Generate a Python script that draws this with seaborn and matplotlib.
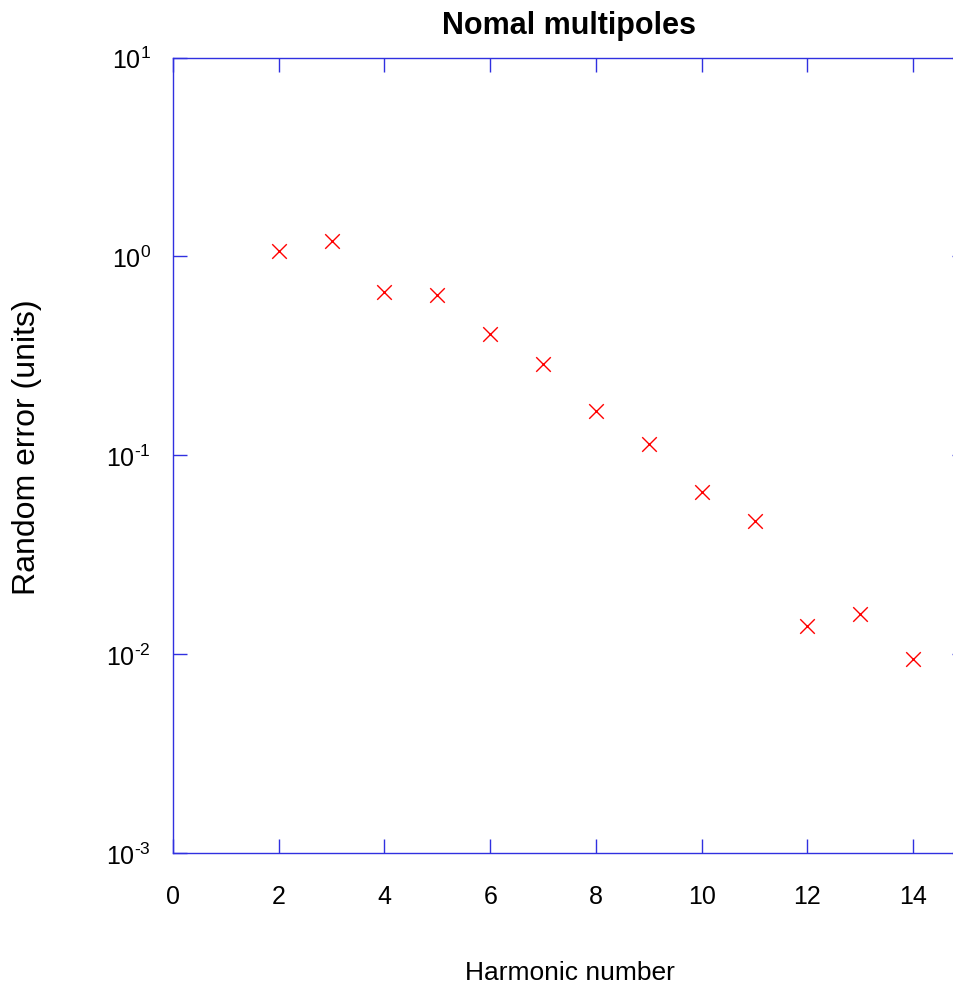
import matplotlib
matplotlib.use('Agg')
from matplotlib import pyplot as plt
from matplotlib.ticker import FuncFormatter, NullLocator
import seaborn as sns
import pandas as pd
import numpy as np

# Data
harmonic = [2, 3, 4, 5, 6, 7, 8, 9, 10, 11, 12, 13, 14]
random_error = [1.06, 1.19, 0.665, 0.643, 0.408, 0.288, 0.166, 0.114,
                0.0655, 0.0468, 0.0139, 0.0160, 0.00946]

title = 'Nomal multipoles'
xlabel = 'Harmonic number'
ylabel = 'Random error (units)'

sns.set_style('ticks')
plt.rcParams['font.family'] = ['Liberation Sans', 'DejaVu Sans']
plt.rcParams['mathtext.fontset'] = 'custom'
plt.rcParams['mathtext.rm'] = 'Liberation Sans'
plt.rcParams['mathtext.it'] = 'Liberation Sans'
plt.rcParams['mathtext.default'] = 'regular'
plt.rcParams['text.color'] = 'black'
plt.rcParams['axes.labelcolor'] = 'black'
plt.rcParams['xtick.labelcolor'] = 'black'
plt.rcParams['ytick.labelcolor'] = 'black'


def pow10_label(v, pos):
    e = int(round(np.log10(v)))
    sign = '\u2010' if e < 0 else ''
    return '$10^{%s%d}$' % (sign, abs(e))


df = pd.DataFrame({'harmonic': harmonic, 'error': random_error})

fig = plt.figure(figsize=(9.54, 9.87), dpi=100)
ax = fig.add_axes([173 / 954, 133 / 987, 793 / 954, 795.5 / 987])

sns.scatterplot(data=df, x='harmonic', y='error', marker='x', color='red',
                s=110, linewidth=1.0, ax=ax)

ax.set_yscale('log')
ax.set_ylim(1e-3, 1e1)
ax.set_xlim(0, 15)
ax.set_xticks(range(0, 15, 2))
ax.set_yticks([1e-3, 1e-2, 1e-1, 1e0, 1e1])
ax.yaxis.set_minor_locator(NullLocator())
ax.yaxis.set_major_formatter(FuncFormatter(pow10_label))

blue = '#3030e0'
for sp in ax.spines.values():
    sp.set_color(blue)
    sp.set_linewidth(1.0)
    sp.set_visible(True)
ax.tick_params(which='major', direction='in', length=10, width=1.0,
               color=blue, labelsize=18, top=True, right=True)
ax.tick_params(axis='x', pad=22)
ax.tick_params(axis='y', pad=16)

ax.set_xlabel(xlabel, fontsize=19, labelpad=38)
ax.set_ylabel(ylabel, fontsize=23)
ax.yaxis.set_label_coords(-0.165, 0.512)
ax.set_title(title, fontsize=22, fontweight='bold', pad=18)

fig.savefig('out.png', dpi=100)
